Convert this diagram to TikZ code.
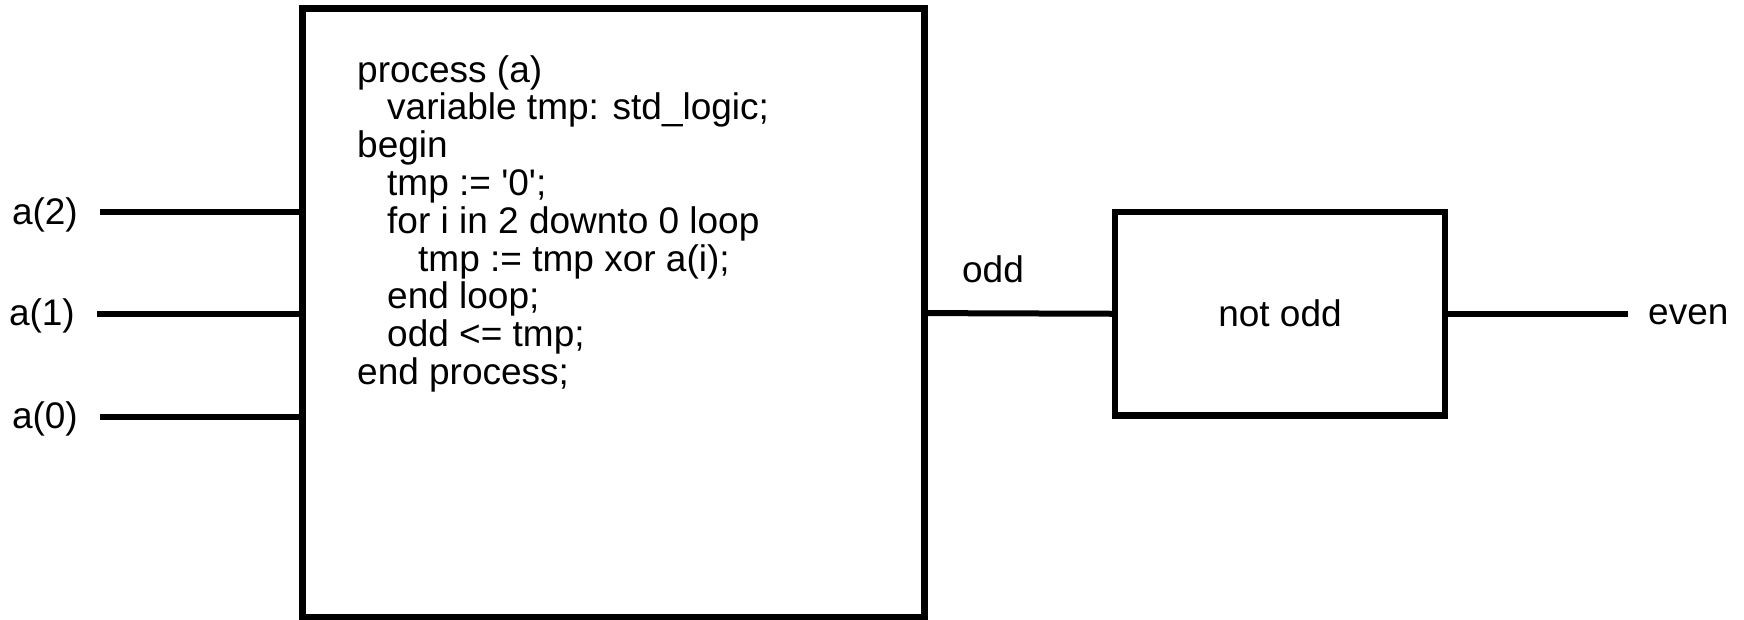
\documentclass[tikz,border=0pt]{standalone}
\usepackage{fontspec}
\setmainfont{Liberation Sans}
\begin{document}
\begin{tikzpicture}[x=1pt,y=-1pt,
  box/.style={draw, line width=6.5pt, inner sep=0pt},
  wire/.style={line width=6pt},
  lbl/.style={font=\fontsize{37}{42}\selectfont, inner sep=0pt},
  codeline/.style={anchor=base west, font=\fontsize{37}{42}\selectfont, inner sep=0pt}]
\useasboundingbox (0,0) rectangle (1744,619);
% boxes
\node[box, minimum width=622pt, minimum height=609pt] (proc) at (613.5,313.1) {};
\node[box, minimum width=330pt, minimum height=203.5pt] (inv) at (1280,313.75) {};
\node[lbl] (invtext) at (1280,313.5) {not odd};
% code
\node[codeline] (c1) at (357,82) {process (a)};
\node[codeline] (c2) at (387,119.8) {variable tmp: std\_logic;};
\node[codeline] (c3) at (357,157.6) {begin};
\node[codeline] (c4) at (387,195.4) {tmp := \textquotesingle0\textquotesingle;};
\node[codeline] (c5) at (387,233.2) {for i in 2 downto 0 loop};
\node[codeline] (c6) at (418,271) {tmp := tmp xor a(i);};
\node[codeline] (c7) at (387,308.8) {end loop;};
\node[codeline] (c8) at (387,346.6) {odd <= tmp;};
\node[codeline] (c9) at (357,384.4) {end process;};
% inputs
\coordinate (a2s) at (100,211.5);
\coordinate (a1s) at (97,313.5);
\coordinate (a0s) at (100,416.5);
\node[lbl, anchor=east] (a2) at (78,215) {a(2)};
\node[lbl, anchor=east] (a1) at (75,316) {a(1)};
\node[lbl, anchor=east] (a0) at (78,419) {a(0)};
\draw[wire] (a2s) -- (a2s -| proc.west);
\draw[wire] (a1s) -- (a1s -| proc.west);
\draw[wire] (a0s) -- (a0s -| proc.west);
% odd
\draw[wire] (proc.east) -- (inv.west);
\node[lbl, anchor=base] (odd) at (993,282) {odd};
% even
\coordinate (evs) at (1628,313.75);
\draw[wire] (inv.east) -- (evs);
\node[lbl, anchor=west] (even) at (1648,315) {even};
\end{tikzpicture}
\end{document}
